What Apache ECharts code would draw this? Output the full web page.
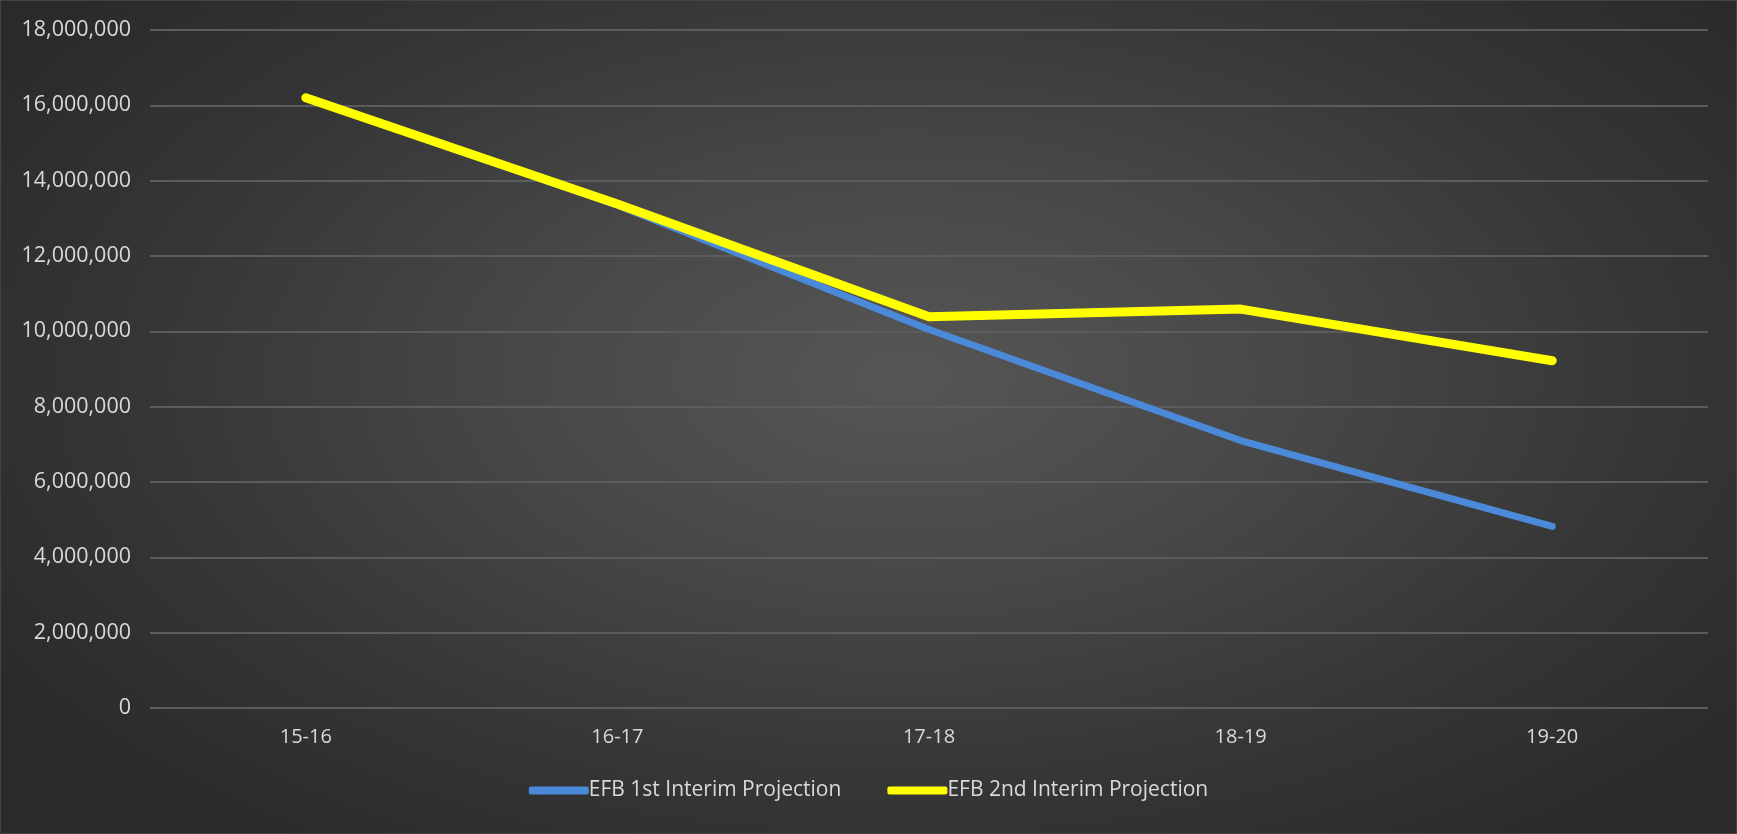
<!DOCTYPE html>
<html>
<head>
<meta charset="utf-8">
<script src="https://cdn.jsdelivr.net/npm/echarts@6/dist/echarts.min.js"></script>
<style>
  html, body { margin: 0; padding: 0; width: 1737px; height: 834px; overflow: hidden; }
  #wrap {
    width: 1737px; height: 834px; box-sizing: border-box;
    background: radial-gradient(ellipse 62% 70% at 52% 45%, #565656 0%, #484848 35%, #363636 70%, #2a2a2a 100%);
    border: 1px solid #444;
  }
  #chart { width: 100%; height: 100%; }
</style>
</head>
<body>
<div id="wrap"><div id="chart"></div></div>
<script>
// Fiscal years on the category axis
const years = ['15-16', '16-17', '17-18', '18-19', '19-20'];
// Projected totals per year
const firstInterim = [16200000, 13350000, 10050000, 7100000, 4820000];
const secondInterim = [16200000, 13380000, 10390000, 10590000, 9220000];
const seriesNames = ['EFB 1st Interim Projection', 'EFB 2nd Interim Projection'];

const textColor = '#d9d9d9';
const fontFamily = '"Open Sans", sans-serif';

const chart = echarts.init(document.getElementById('chart'));
chart.setOption({
  backgroundColor: 'transparent',
  animation: false,
  grid: { left: 149, right: 28, top: 29, bottom: 125 },
  legend: {
    bottom: 27,
    left: 'center',
    itemWidth: 60,
    itemHeight: 8,
    itemGap: 46,
    icon: 'roundRect',
    textStyle: { color: textColor, fontFamily, fontSize: 21, padding: [0, 0, 0, -5] },
    data: seriesNames
  },
  xAxis: {
    type: 'category',
    data: years,
    boundaryGap: true,
    axisLine: { show: false },
    axisTick: { show: false },
    axisLabel: { color: textColor, fontFamily, fontSize: 20, margin: 19 }
  },
  yAxis: {
    type: 'value',
    min: 0,
    max: 18000000,
    interval: 2000000,
    axisLine: { show: false },
    axisTick: { show: false },
    axisLabel: {
      color: textColor, fontFamily, fontSize: 21.5, margin: 19,
      formatter: v => v.toLocaleString('en-US')
    },
    splitLine: { lineStyle: { color: '#5c5c5c', width: 2 } }
  },
  series: [
    {
      name: seriesNames[0],
      type: 'line',
      data: firstInterim,
      symbol: 'none',
      color: '#4a8ad8',
      lineStyle: { width: 7, cap: 'round', join: 'round', color: '#4a8ad8' },
      z: 2
    },
    {
      name: seriesNames[1],
      type: 'line',
      data: secondInterim,
      symbol: 'none',
      color: '#ffff00',
      lineStyle: { width: 9, cap: 'round', join: 'round', color: '#ffff00' },
      z: 3
    }
  ]
});
</script>
</body>
</html>
